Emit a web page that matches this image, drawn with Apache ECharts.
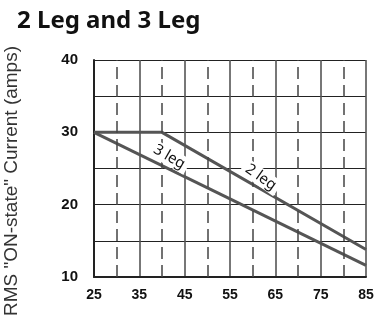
<!DOCTYPE html>
<html>
<head>
<meta charset="utf-8">
<script src="https://cdn.jsdelivr.net/npm/echarts@6/dist/echarts.min.js"></script>
<style>
  html, body { margin: 0; padding: 0; background: #fff; }
  #chart { width: 385px; height: 320px; }
</style>
</head>
<body>
<div id="chart"></div>
<script>
// Ambient temperature (x) vs. allowed RMS current (y)
const twoLegPoints = [[25, 30], [40, 30], [85, 13.8]];
const threeLegPoints = [[25, 30], [85, 11.6]];

// Dashed guide lines half-way between the labelled ticks
const dashedTicks = [30, 40, 50, 60, 70, 80];

// In-plot curve labels (anchored in data coordinates)
const curveLabels = ['3 leg', '2 leg'];
const curveLabelX = [41.6, 61.8];
const curveLabelY = [26.6, 23.8];
const curveLabelAngle = [-30, -35];

const chart = echarts.init(document.getElementById('chart'), null, { renderer: 'canvas' });

chart.setOption({
  animation: false,
  backgroundColor: '#ffffff',
  title: {
    text: '2 Leg and 3 Leg',
    left: 12,
    top: 4,
    textStyle: { fontFamily: 'Noto Sans', fontWeight: 'bold', fontSize: 24, color: '#111' }
  },
  grid: { left: 94, right: 19, top: 60, bottom: 43 },
  xAxis: {
    type: 'value',
    min: 25,
    max: 85,
    interval: 10,
    axisLine: { show: true, lineStyle: { color: '#222', width: 2 } },
    axisTick: { show: false },
    axisLabel: {
      margin: 11,
      fontFamily: 'Liberation Sans',
      fontWeight: 'bold',
      fontSize: 14,
      color: '#111'
    },
    splitLine: { show: true, lineStyle: { color: '#555', width: 1.6, type: 'solid' } }
  },
  yAxis: {
    type: 'value',
    min: 10,
    max: 40,
    interval: 5,
    axisLine: { show: true, lineStyle: { color: '#222', width: 2 } },
    axisTick: { show: false },
    axisLabel: {
      margin: 16,
      fontFamily: 'Liberation Sans',
      fontWeight: 'bold',
      fontSize: 15,
      color: '#111',
      formatter: v => (v % 10 === 0 ? String(v) : '')
    },
    splitLine: { show: true, lineStyle: { color: '#222', width: 1.2 } }
  },
  series: [
    {
      // carrier for the dashed vertical guides
      type: 'line',
      data: [],
      z: 1,
      silent: true,
      markLine: {
        silent: true,
        symbol: ['none', 'none'],
        label: { show: false },
        lineStyle: { color: '#444', width: 1.5, type: [12, 6] },
        data: dashedTicks.map(v => ({ xAxis: v }))
      }
    },
    {
      name: '2 leg',
      type: 'line',
      data: twoLegPoints,
      z: 2,
      symbol: 'none',
      lineStyle: { color: '#555', width: 3 }
    },
    {
      name: '3 leg',
      type: 'line',
      data: threeLegPoints,
      z: 2,
      symbol: 'none',
      lineStyle: { color: '#555', width: 3 }
    }
  ]
});

// Curve labels: white boxes that mask the grid, rotated along the curves
const labelGraphics = curveLabels.map((name, i) => {
  const [px, py] = chart.convertToPixel({ gridIndex: 0 }, [curveLabelX[i], curveLabelY[i]]);
  return {
    type: 'text',
    x: px,
    y: py,
    z: 10,
    rotation: curveLabelAngle[i] * Math.PI / 180,
    style: {
      text: name,
      fontFamily: 'Noto Sans',
      fontSize: 15,
      fill: '#111',
      backgroundColor: '#ffffff',
      padding: [1, 4],
      align: 'center',
      verticalAlign: 'middle'
    }
  };
});

chart.setOption({
  graphic: [
    {
      type: 'text',
      x: 12,
      y: 181,
      rotation: Math.PI / 2,
      style: {
        text: 'RMS "ON-state" Current (amps)',
        fontFamily: 'Liberation Sans',
        fontSize: 19,
        fill: '#333',
        align: 'center',
        verticalAlign: 'middle'
      }
    }
  ].concat(labelGraphics)
});
</script>
</body>
</html>
